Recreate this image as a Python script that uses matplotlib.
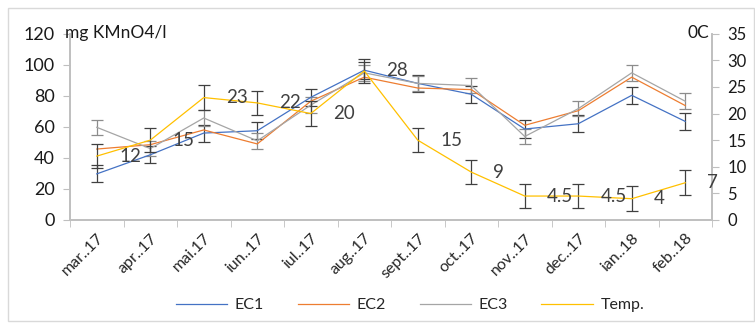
import matplotlib.pyplot as plt
from matplotlib.patches import Rectangle
import numpy as np

plt.rcParams['font.family'] = ['Lato', 'DejaVu Sans']

months = ['mar..17', 'apr..17', 'mai.17', 'iun..17', 'iul..17', 'aug..17',
          'sept..17', 'oct..17', 'nov..17', 'dec..17', 'ian..18', 'feb..18']
ec1 = [29.7, 42, 56, 57.5, 79, 96.5, 88, 81, 58.6, 62, 80.3, 63.5]
ec2 = [45.7, 48.5, 58, 49, 76.5, 92, 85, 84, 61, 70.4, 92, 73.7]
ec3 = [59.7, 46, 65.7, 51, 74, 94.8, 88, 86.6, 53.8, 71.7, 94.8, 76.5]
temp = [12, 15, 23, 22, 20, 28, 15, 9, 4.5, 4.5, 4, 7]
ec1_err = 5.5
ec3_err = 5
temp_err = 2.3

x = np.arange(len(months))

fig = plt.figure(figsize=(7.55, 3.29), dpi=100)
ax = fig.add_axes([70 / 755, 1 - 220 / 329, 642 / 755, (220 - 33.7) / 329])
ax2 = ax.twinx()

c_ec1, c_ec2, c_ec3, c_t = '#4472C4', '#ED7D31', '#A5A5A5', '#FFC000'
lw = 0.9

ax.plot(x, ec1, color=c_ec1, lw=lw, label='EC1', zorder=3)
ax.plot(x, ec2, color=c_ec2, lw=lw, label='EC2', zorder=3)
ax.plot(x, ec3, color=c_ec3, lw=lw, label='EC3', zorder=3)
ax.errorbar(x, ec1, yerr=ec1_err, fmt='none', ecolor='#404040', elinewidth=0.9, capsize=4, capthick=0.9, zorder=2)
ax.errorbar(x, ec3, yerr=ec3_err, fmt='none', ecolor='#8c8c8c', elinewidth=0.9, capsize=4, capthick=0.9, zorder=2)

ax2.plot(x, temp, color=c_t, lw=lw, label='Temp.', zorder=3)
ax2.errorbar(x, temp, yerr=temp_err, fmt='none', ecolor='#404040', elinewidth=0.9, capsize=4, capthick=0.9, zorder=2)
for xi, t in zip(x, temp):
    ax2.annotate('{:g}'.format(t), (xi, t), xytext=(16, 0), textcoords='offset points',
                 ha='left', va='center', fontsize=13.5, color='#404040')

ax.set_xlim(-0.5, len(months) - 0.5)
ax.set_ylim(0, 120)
ax.set_yticks(range(0, 121, 20))
ax2.set_ylim(0, 35)
ax2.set_yticks(range(0, 36, 5))

ax.set_xticks(x)
ax.set_xticklabels(months, rotation=45, ha='right', rotation_mode='anchor', fontsize=11.5, color='#262626')
ax.set_xticks(np.arange(-0.5, len(months), 1), minor=True)
ax.tick_params(axis='x', which='major', length=0, pad=8)
ax.tick_params(axis='x', which='minor', length=5, color='#bfbfbf')
ax.tick_params(axis='y', length=5, color='#bfbfbf', labelsize=13, labelcolor='#1a1a1a', pad=6)
ax2.tick_params(axis='y', length=5, color='#bfbfbf', labelsize=12, labelcolor='#1a1a1a', pad=6)

for a in (ax, ax2):
    a.spines['top'].set_visible(False)
    for s in ('left', 'right', 'bottom'):
        a.spines[s].set_color('#bfbfbf')
        a.spines[s].set_linewidth(1.2)

fig.text(65 / 755, 1 - 33 / 329, 'mg KMnO4/l', fontsize=12.5, color='#1a1a1a', ha='left', va='center')
fig.text(709 / 755, 1 - 33 / 329, '0C', fontsize=12.5, color='#1a1a1a', ha='right', va='center')

handles = ax.get_lines()[:3] + ax2.get_lines()[:1]
fig.legend(handles, ['EC1', 'EC2', 'EC3', 'Temp.'], loc='center', ncol=4,
           bbox_to_anchor=(410 / 755, 1 - 305 / 329), frameon=False, fontsize=11.5,
           handlelength=3.2, columnspacing=2.1, handletextpad=0.5, labelcolor='#262626')

fig.patches.append(Rectangle((8 / 755, 8 / 329), 746 / 755, 313 / 329, transform=fig.transFigure,
                             fill=False, edgecolor='#d9d9d9', lw=1))

fig.savefig('out.png', dpi=100)
